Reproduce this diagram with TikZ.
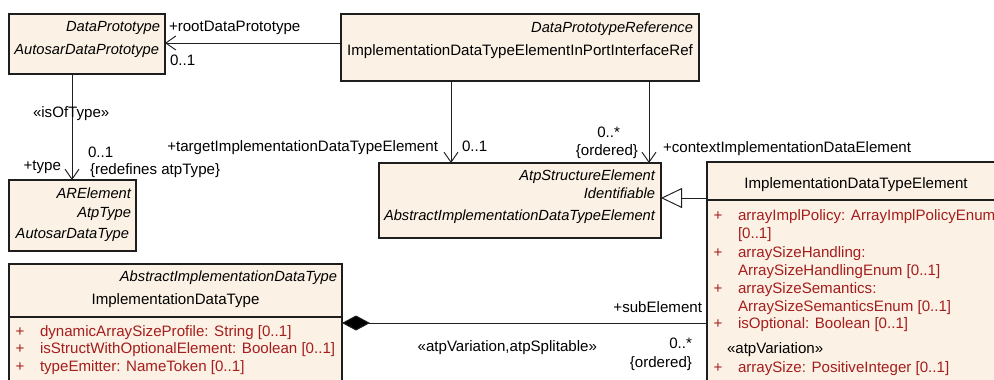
\documentclass[tikz,border=0pt]{standalone}
\usepackage{fontspec}
\setmainfont{Liberation Sans}
\usetikzlibrary{arrows.meta}
\definecolor{boxfill}{RGB}{251,241,228}
\definecolor{attrred}{RGB}{165,30,30}
\definecolor{linegray}{RGB}{30,30,30}
\begin{document}
\begin{tikzpicture}[x=1pt,y=-1pt,
  every node/.style={font=\fontsize{15.1}{18}\selectfont, inner sep=0pt, outer sep=0pt},
  umlbox/.style={draw=linegray, line width=1.1pt, fill=boxfill, anchor=north west, rectangle},
  it/.style={font=\fontsize{14.7}{18}\selectfont\itshape},
  attr/.style={text=attrred, anchor=base west},
  plus/.style={text=attrred, anchor=base},
  assoc/.style={draw=linegray, line width=0.95pt, -{Straight Barb[length=10pt,width=14pt,line width=0.95pt]}},
  gen/.style={draw=linegray, line width=0.95pt, -{Triangle[open,length=21pt,width=20pt,fill=white,line width=0.95pt]}},
  comp/.style={draw=linegray, line width=0.95pt, {Diamond[length=28pt,width=15pt,fill=black]}-}
]
\useasboundingbox (0,0) rectangle (994,380);
\clip (0,0) rectangle (994,380);

% boxes
\node[umlbox, minimum width=156pt, minimum height=60pt] (adp) at (9,14) {};
\node[umlbox, minimum width=127pt, minimum height=71pt] (adt) at (9,180) {};
\node[umlbox, minimum width=358pt, minimum height=67pt] (ref) at (341,14) {};
\node[umlbox, minimum width=282pt, minimum height=75pt] (aide) at (379,163) {};
\node[umlbox, minimum width=298pt, minimum height=240pt] (ide) at (707,162) {};
\node[umlbox, minimum width=333pt, minimum height=140pt] (idt) at (9,264) {};

% compartments
\draw[draw=linegray, line width=1.1pt] ([yshift=-38pt]ide.north west) -- ([yshift=-38pt]ide.north east);
\draw[draw=linegray, line width=1.1pt] ([yshift=-53pt]idt.north west) -- ([yshift=-53pt]idt.north east);

% box texts
\node[it, anchor=base east] (t1) at (160,31) {DataPrototype};
\node[it, anchor=base east] (t2) at (159,54) {AutosarDataPrototype};

\node[it, anchor=base east] (t3) at (131,198) {ARElement};
\node[it, anchor=base east] (t4) at (131,217) {AtpType};
\node[it, anchor=base east] (t5) at (129,238) {AutosarDataType};

\node[it, anchor=base east] (t6) at (693,32) {DataPrototypeReference};
\node[anchor=base] (t7) at (520,55) {ImplementationDataTypeElementInPortInterfaceRef};

\node[it, anchor=base east] (t8) at (655,180) {AtpStructureElement};
\node[it, anchor=base east] (t9) at (655,198) {Identifiable};
\node[it, anchor=base east] (t10) at (655,220) {AbstractImplementationDataTypeElement};

\node[anchor=base] (t11) at (856,188) {ImplementationDataTypeElement};
\node[plus] (p1) at (718,220) {+};
\node[attr] (a1) at (738,220) {arrayImplPolicy: ArrayImplPolicyEnum};
\node[attr] (a2) at (738,238) {[0..1]};
\node[plus] (p2) at (718,257) {+};
\node[attr] (a3) at (738,257) {arraySizeHandling:};
\node[attr] (a4) at (738,275) {ArraySizeHandlingEnum [0..1]};
\node[plus] (p3) at (718,293) {+};
\node[attr] (a5) at (738,293) {arraySizeSemantics:};
\node[attr] (a6) at (738,311) {ArraySizeSemanticsEnum [0..1]};
\node[plus] (p4) at (718,328) {+};
\node[attr] (a7) at (738,328) {isOptional: Boolean [0..1]};
\node[anchor=base west] (s1) at (727,353) {«atpVariation»};
\node[plus] (p5) at (718,372) {+};
\node[attr] (a8) at (738,372) {arraySize: PositiveInteger [0..1]};

\node[it, anchor=base east] (t12) at (337,281) {AbstractImplementationDataType};
\node[anchor=base] (t13) at (175.5,304) {ImplementationDataType};
\node[plus] (p6) at (20,336) {+};
\node[attr] (b1) at (40,336) {dynamicArraySizeProfile: String [0..1]};
\node[plus] (p7) at (20,353) {+};
\node[attr] (b2) at (40,353) {isStructWithOptionalElement: Boolean [0..1]};
\node[plus] (p8) at (20,371) {+};
\node[attr] (b3) at (40,371) {typeEmitter: NameToken [0..1]};

% connectors
\draw[assoc] ([yshift=-29pt]ref.north west) -- ([yshift=-29pt]adp.north east);
\draw[assoc] ([xshift=63pt]adp.south west) -- ([xshift=63pt]adt.north west);
\draw[assoc] ([xshift=110pt]ref.south west) -- ([xshift=72pt]aide.north west);
\draw[assoc] ([xshift=308pt]ref.south west) -- ([xshift=270pt]aide.north west);
\draw[gen] ([yshift=-36pt]ide.north west) -- ([yshift=-35pt]aide.north east);
\draw[comp] ([yshift=-59pt]idt.north east) -- ([yshift=-161pt]ide.north west);

% connector labels
\node[anchor=base west] (l1) at (169,31) {+rootDataPrototype};
\node[anchor=base west] (l2) at (170,65) {0..1};
\node[anchor=base west] (l3) at (33,117) {«isOfType»};
\node[anchor=base west] (l4) at (88,157) {0..1};
\node[anchor=base east] (l5) at (61,170) {+type};
\node[anchor=base west] (l6) at (90,174) {\{redefines atpType\}};
\node[anchor=base east] (l7) at (438,151) {+targetImplementationDataTypeElement};
\node[anchor=base west] (l8) at (462,151) {0..1};
\node[anchor=base east] (l9) at (620,137) {0..*};
\node[anchor=base east] (l10) at (638,155) {\{ordered\}};
\node[anchor=base west] (l11) at (663,152) {+contextImplementationDataElement};
\node[anchor=base east] (l12) at (702,312) {+subElement};
\node[anchor=base east] (l13) at (597,351) {«atpVariation,atpSplitable»};
\node[anchor=base east] (l14) at (692,348) {0..*};
\node[anchor=base east] (l15) at (692,367) {\{ordered\}};
\end{tikzpicture}
\end{document}
